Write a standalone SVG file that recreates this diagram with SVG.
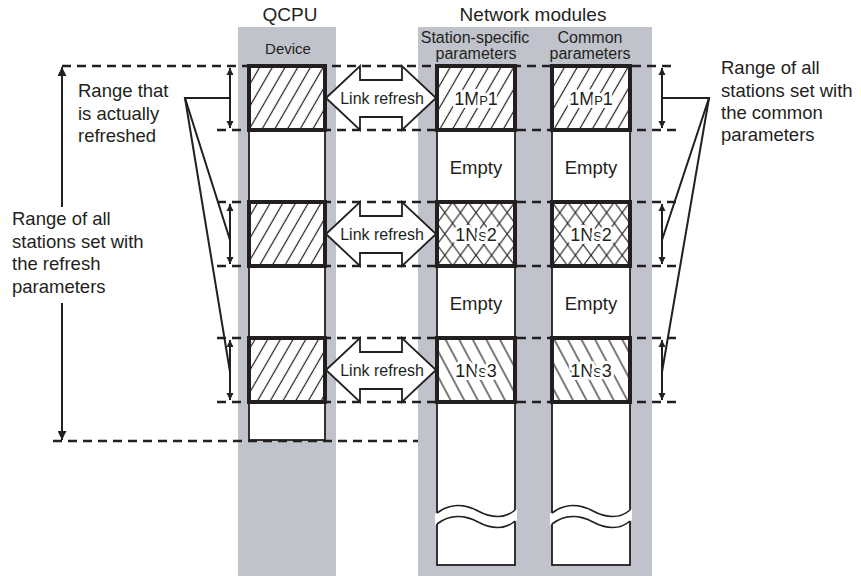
<svg xmlns="http://www.w3.org/2000/svg" width="861" height="576" viewBox="0 0 861 576">
<style>
text{font-family:"Liberation Sans",Arial,sans-serif;fill:#231f20}
.t18{font-size:18.5px}
.t19{font-size:19px}
.t16{font-size:16px}
.t15{font-size:15px}
.mid{text-anchor:middle}
.panel{fill:#c0c3cb}
.col{fill:#fff;stroke:#231f20;stroke-width:1.8}
.dash{stroke:#231f20;stroke-width:2.5;stroke-dasharray:9 6;fill:none}
.box{stroke:#231f20;stroke-width:4}
.ln{stroke:#231f20;stroke-width:2;fill:none}
.lr{fill:#fff;stroke:#231f20;stroke-width:1.8}
.bt{font-size:18px;text-anchor:middle;stroke:#fff;stroke-width:6;paint-order:stroke;stroke-linejoin:round}
.wave{stroke:#231f20;stroke-width:1.6;fill:none}
</style>
<defs>
<pattern id="hf" patternUnits="userSpaceOnUse" width="11" height="10" patternTransform="rotate(30)">
<rect width="11" height="10" fill="#fff"/><line x1="5.5" y1="0" x2="5.5" y2="10" stroke="#231f20" stroke-width="1.2"/>
</pattern>
<pattern id="hb" patternUnits="userSpaceOnUse" width="12" height="10" patternTransform="rotate(-28)">
<rect width="12" height="10" fill="#fff"/><line x1="6" y1="0" x2="6" y2="10" stroke="#231f20" stroke-width="1.2"/>
</pattern>
<pattern id="hx" patternUnits="userSpaceOnUse" x="437" y="202" width="15.6" height="21.3">
<rect width="15.6" height="21.3" fill="#fff"/><path d="M0,0 L15.6,21.3 M15.6,0 L0,21.3" stroke="#231f20" stroke-width="1.1"/>
</pattern>
<pattern id="hx2" patternUnits="userSpaceOnUse" x="552" y="202" width="15.6" height="21.3">
<rect width="15.6" height="21.3" fill="#fff"/><path d="M0,0 L15.6,21.3 M15.6,0 L0,21.3" stroke="#231f20" stroke-width="1.1"/>
</pattern>
<marker id="ah" viewBox="0 0 10 10" refX="10" refY="5" markerWidth="7" markerHeight="8" markerUnits="userSpaceOnUse" orient="auto-start-reverse">
<path d="M0,0 L10,5 L0,10 Z" fill="#231f20"/>
</marker>
<marker id="ahb" viewBox="0 0 10 10" refX="10" refY="5" markerWidth="9" markerHeight="9" markerUnits="userSpaceOnUse" orient="auto-start-reverse">
<path d="M0,0 L10,5 L0,10 Z" fill="#231f20"/>
</marker>
</defs>

<!-- panels -->
<rect class="panel" x="238" y="27" width="98" height="549"/>
<rect class="panel" x="418" y="27" width="234" height="549"/>

<text class="t19 mid" x="290" y="21">QCPU</text>
<text class="t19 mid" x="533" y="21">Network modules</text>
<text class="t15 mid" x="288" y="54">Device</text>
<text class="t16 mid" x="475" y="43">Station-specific</text>
<text class="t16 mid" x="476" y="59">parameters</text>
<text class="t16 mid" x="590" y="43">Common</text>
<text class="t16 mid" x="590" y="59">parameters</text>

<!-- dashed range lines -->
<g id="connectors">
<line class="dash" x1="62" y1="66" x2="676" y2="66"/>
<line class="dash" x1="217" y1="130" x2="676" y2="130"/>
<line class="dash" x1="217" y1="202" x2="676" y2="202"/>
<line class="dash" x1="217" y1="266" x2="676" y2="266"/>
<line class="dash" x1="217" y1="338" x2="676" y2="338"/>
<line class="dash" x1="217" y1="402" x2="676" y2="402"/>
<line class="dash" x1="53" y1="441" x2="418" y2="441"/>

<!-- left big arrow -->
<line class="ln" x1="62" y1="207" x2="62" y2="67" stroke-width="2.5" marker-end="url(#ahb)"/>
<line class="ln" x1="62" y1="303" x2="62" y2="440" stroke-width="2.5" marker-end="url(#ahb)"/>

<!-- left small arrows -->
<line class="ln" x1="230" y1="68" x2="230" y2="128" marker-start="url(#ah)" marker-end="url(#ah)"/>
<line class="ln" x1="230" y1="204" x2="230" y2="264" marker-start="url(#ah)" marker-end="url(#ah)"/>
<line class="ln" x1="230" y1="340" x2="230" y2="400" marker-start="url(#ah)" marker-end="url(#ah)"/>
<polyline class="ln" points="230,98 185,98 230,240"/>
<line class="ln" x1="185" y1="98" x2="230" y2="372"/>

<!-- right small arrows -->
<line class="ln" x1="662" y1="68" x2="662" y2="128" marker-start="url(#ah)" marker-end="url(#ah)"/>
<line class="ln" x1="662" y1="204" x2="662" y2="264" marker-start="url(#ah)" marker-end="url(#ah)"/>
<line class="ln" x1="662" y1="340" x2="662" y2="400" marker-start="url(#ah)" marker-end="url(#ah)"/>
<polyline class="ln" points="662,98 709,98 662,240"/>
<line class="ln" x1="709" y1="98" x2="662" y2="372"/>
</g>

<!-- labels -->
<text class="t18" x="78" y="97">Range that</text>
<text class="t18" x="78" y="120">is actually</text>
<text class="t18" x="78" y="142">refreshed</text>
<text class="t18" x="12" y="225">Range of all</text>
<text class="t18" x="12" y="248">stations set with</text>
<text class="t18" x="12" y="270">the refresh</text>
<text class="t18" x="12" y="293">parameters</text>
<text class="t18" x="721" y="74">Range of all</text>
<text class="t18" x="721" y="97">stations set with</text>
<text class="t18" x="721" y="119">the common</text>
<text class="t18" x="721" y="141">parameters</text>

<!-- QCPU device column -->
<g id="qcpu">
<rect class="col" x="249" y="66" width="76" height="374"/>
<rect class="box" x="249" y="66" width="76" height="64" fill="url(#hf)"/>
<rect class="box" x="249" y="202" width="76" height="64" fill="url(#hf)"/>
<rect class="box" x="249" y="338" width="76" height="64" fill="url(#hf)"/>
</g>

<!-- station-specific column -->
<g id="station">
<rect class="col" x="437" y="66" width="78" height="499"/>
<rect class="box" x="437" y="66" width="78" height="64" fill="url(#hf)"/>
<rect class="box" x="437" y="202" width="78" height="64" fill="url(#hx)"/>
<rect class="box" x="437" y="338" width="78" height="64" fill="url(#hb)"/>
<text class="bt" x="476" y="105">1M<tspan font-size="13">P</tspan>1</text>
<text class="t18 mid" x="476" y="174">Empty</text>
<text class="bt" x="476" y="241">1N<tspan font-size="13">S</tspan>2</text>
<text class="t18 mid" x="476" y="310">Empty</text>
<text class="bt" x="476" y="377">1N<tspan font-size="13">S</tspan>3</text>
<path d="M435,514 C450,503 465,504 478,511 C491,518 505,519 517,509 L517,520 C505,530 491,529 478,522 C465,515 450,514 435,525 Z" fill="#fff"/>
<path class="wave" d="M437,513 C450,503 465,504 478,511 C491,518 505,519 515,510"/>
<path class="wave" d="M437,524 C450,514 465,515 478,522 C491,529 505,530 515,521"/>
</g>

<!-- common column -->
<g id="common">
<rect class="col" x="552" y="66" width="78" height="499"/>
<rect class="box" x="552" y="66" width="78" height="64" fill="url(#hf)"/>
<rect class="box" x="552" y="202" width="78" height="64" fill="url(#hx2)"/>
<rect class="box" x="552" y="338" width="78" height="64" fill="url(#hb)"/>
<text class="bt" x="591" y="105">1M<tspan font-size="13">P</tspan>1</text>
<text class="t18 mid" x="591" y="174">Empty</text>
<text class="bt" x="591" y="241">1N<tspan font-size="13">S</tspan>2</text>
<text class="t18 mid" x="591" y="310">Empty</text>
<text class="bt" x="591" y="377">1N<tspan font-size="13">S</tspan>3</text>
<path d="M550,514 C565,503 580,504 593,511 C606,518 620,519 632,509 L632,520 C620,530 606,529 593,522 C580,515 565,514 550,525 Z" fill="#fff"/>
<path class="wave" d="M552,513 C565,503 580,504 593,511 C606,518 620,519 630,510"/>
<path class="wave" d="M552,524 C565,514 580,515 593,522 C606,529 620,530 630,521"/>
</g>

<!-- link refresh arrows -->
<g id="link1">
<path class="lr" d="M326,98 L360,66 L360,80 L402,80 L402,66 L436,98 L402,130 L402,117 L360,117 L360,130 Z"/>
<text class="t16 mid" x="382" y="104">Link refresh</text>
</g>
<g id="link2">
<path class="lr" d="M326,234 L360,202 L360,216 L402,216 L402,202 L436,234 L402,266 L402,253 L360,253 L360,266 Z"/>
<text class="t16 mid" x="382" y="240">Link refresh</text>
</g>
<g id="link3">
<path class="lr" d="M326,370 L360,338 L360,352 L402,352 L402,338 L436,370 L402,402 L402,389 L360,389 L360,402 Z"/>
<text class="t16 mid" x="382" y="376">Link refresh</text>
</g>
</svg>
